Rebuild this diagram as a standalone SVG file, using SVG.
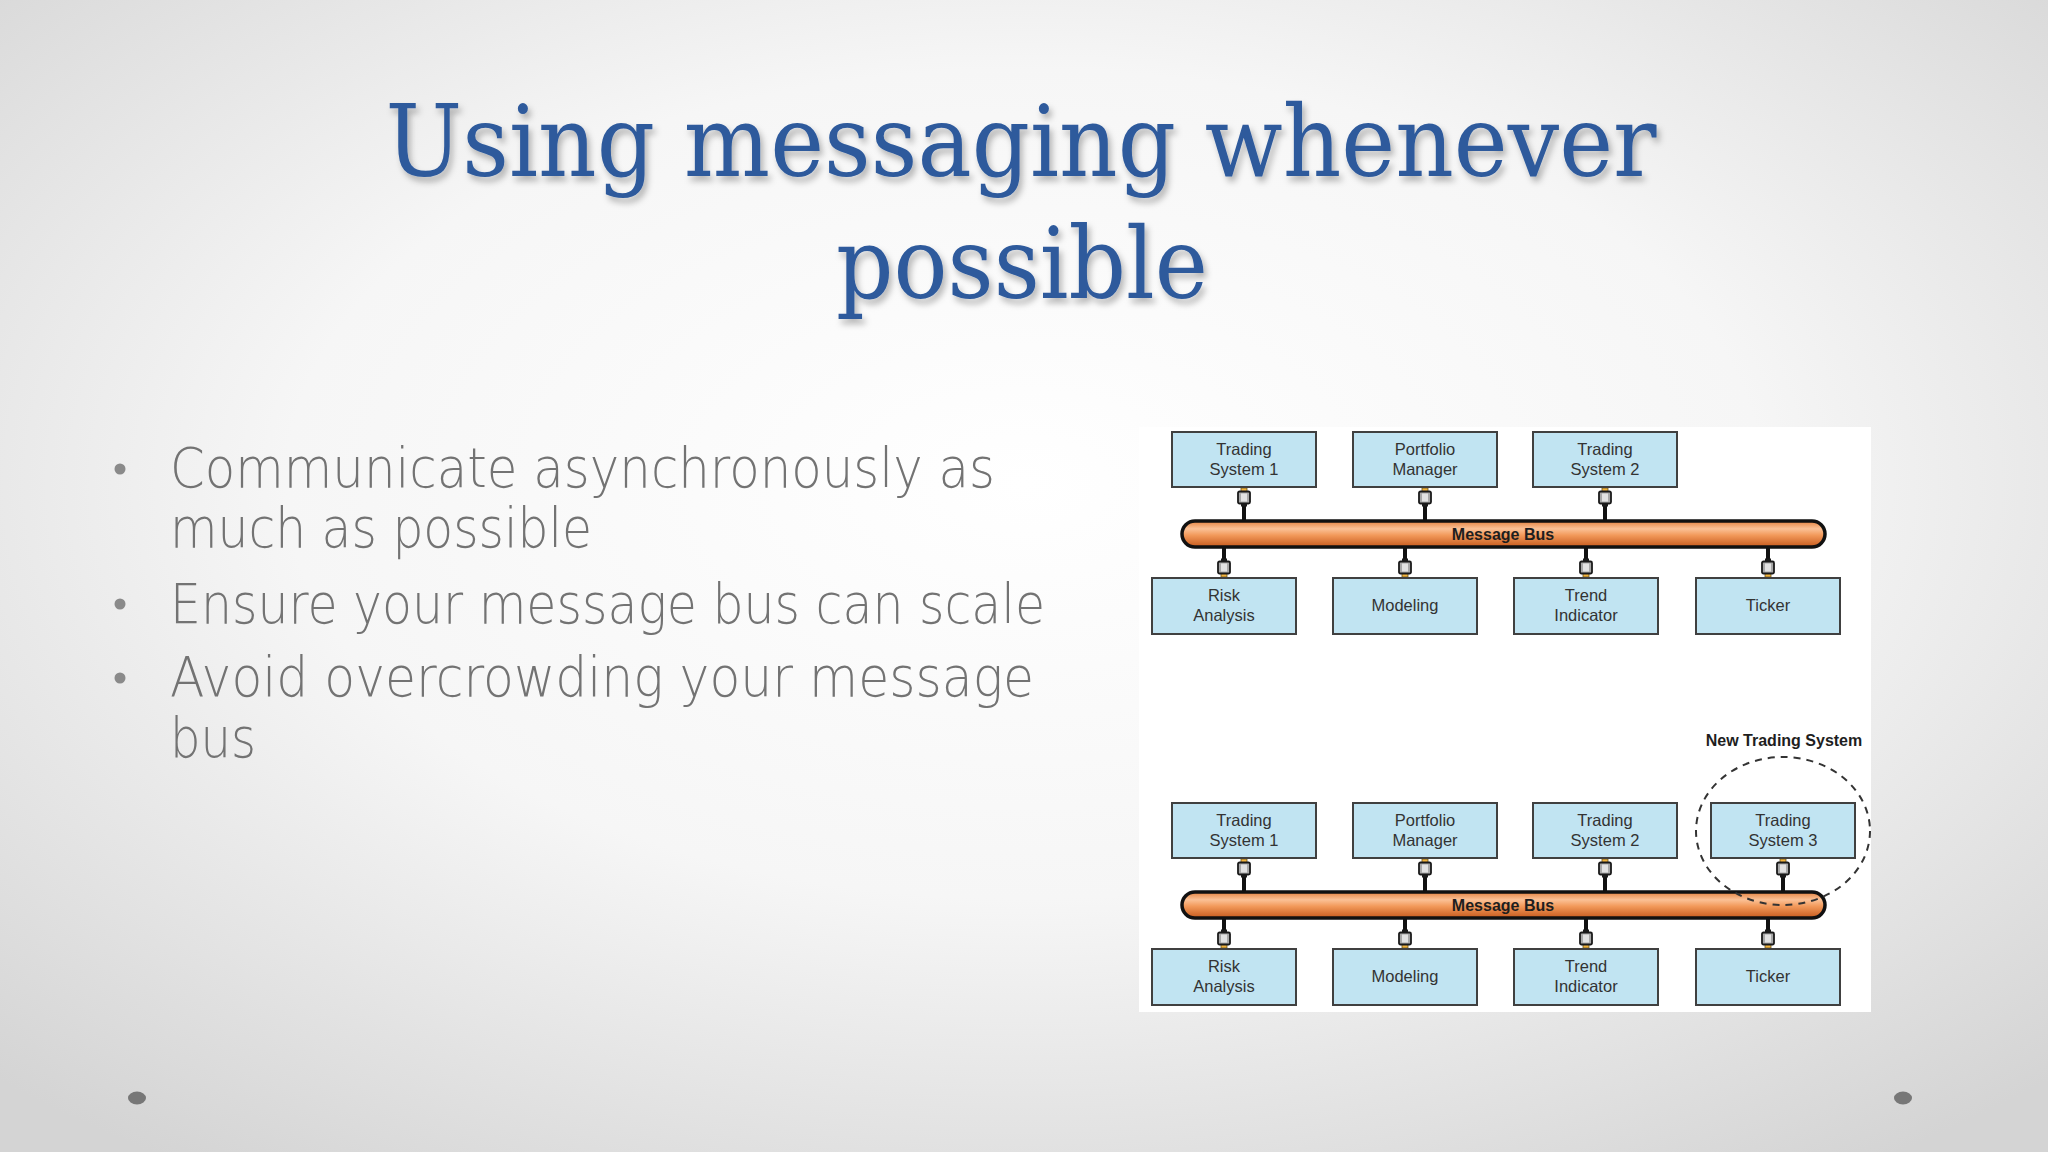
<svg xmlns="http://www.w3.org/2000/svg" xmlns:xlink="http://www.w3.org/1999/xlink" width="2048" height="1152" viewBox="0 0 2048 1152">
<defs>
<radialGradient id="bg" cx="50%" cy="42%" r="72%">
<stop offset="0" stop-color="#ffffff"/>
<stop offset="0.5" stop-color="#f6f6f6"/>
<stop offset="1" stop-color="#d4d4d4"/>
</radialGradient>
<linearGradient id="busg" x1="0" y1="0" x2="0" y2="1">
<stop offset="0" stop-color="#e4823f"/>
<stop offset="0.3" stop-color="#fbc196"/>
<stop offset="0.55" stop-color="#f2995a"/>
<stop offset="1" stop-color="#c65a1d"/>
</linearGradient>
<filter id="tshadow" x="-5%" y="-20%" width="110%" height="150%">
<feDropShadow dx="3" dy="5" stdDeviation="3" flood-color="#000" flood-opacity="0.28"/>
</filter>
<g id="plug">
<rect x="-3" y="0" width="6" height="4" fill="#f2b33d" stroke="#6a5520" stroke-width="0.8"/>
<rect x="-6" y="3.5" width="12" height="12" rx="1.5" fill="#a8a8a8" stroke="#1a1a1a" stroke-width="1.8"/>
<rect x="-3" y="5.5" width="6" height="8" fill="#e2e2e2"/>
<rect x="-3" y="15.5" width="6" height="3" fill="#1a1a1a"/>
</g>
<style>
.title{font-family:"DejaVu Serif","Liberation Serif",serif;font-size:100px;fill:#2e5a9c;text-anchor:middle;}
.bullet{font-family:"DejaVu Sans","Liberation Sans",sans-serif;font-weight:200;font-size:56px;fill:#737373;}
.dot{fill:#8a8a8a;}
.box{fill:#c1e4f2;stroke:#404040;stroke-width:2;}
.lbl{font-family:"Liberation Sans",Arial,sans-serif;font-size:16.5px;fill:#333;text-anchor:middle;}
.bus{fill:url(#busg);stroke:#111;stroke-width:3.5;}
.buslbl{font-family:"Liberation Sans",Arial,sans-serif;font-size:16px;font-weight:bold;fill:#1e1e1e;text-anchor:middle;}
.cable{stroke:#111;stroke-width:4;fill:none;}
.newlbl{font-family:"Liberation Sans",Arial,sans-serif;font-size:16px;font-weight:bold;fill:#1e1e1e;text-anchor:middle;}
.ring{fill:none;stroke:#333;stroke-width:2;stroke-dasharray:7 6;}
</style>
</defs>

<rect x="0" y="0" width="2048" height="1152" fill="url(#bg)"/>

<g id="title" filter="url(#tshadow)">
<text class="title" x="1021" y="176" textLength="1271" lengthAdjust="spacingAndGlyphs">Using messaging whenever</text>
<text class="title" x="1022" y="298" textLength="372" lengthAdjust="spacingAndGlyphs">possible</text>
</g>

<g id="bullets">
<circle class="dot" cx="120" cy="469" r="5.5"/>
<circle class="dot" cx="120" cy="604" r="5.5"/>
<circle class="dot" cx="120" cy="678" r="5.5"/>
<text class="bullet" x="170" y="487" textLength="825" lengthAdjust="spacingAndGlyphs">Communicate asynchronously as</text>
<text class="bullet" x="170" y="547" textLength="422" lengthAdjust="spacingAndGlyphs">much as possible</text>
<text class="bullet" x="170" y="623" textLength="875" lengthAdjust="spacingAndGlyphs">Ensure your message bus can scale</text>
<text class="bullet" x="170" y="696" textLength="864" lengthAdjust="spacingAndGlyphs">Avoid overcrowding your message</text>
<text class="bullet" x="170" y="757" textLength="86" lengthAdjust="spacingAndGlyphs">bus</text>
</g>

<ellipse cx="137" cy="1098" rx="9" ry="6.5" fill="#777"/>
<ellipse cx="1903" cy="1098" rx="9" ry="6.5" fill="#777"/>

<rect id="panel" x="1139" y="427" width="732" height="585" fill="#ffffff"/>

<!-- Diagram 1 -->
<g id="connectors1">
<line class="cable" x1="1244" y1="505" x2="1244" y2="522"/>
<line class="cable" x1="1425" y1="505" x2="1425" y2="522"/>
<line class="cable" x1="1605" y1="505" x2="1605" y2="522"/>
<line class="cable" x1="1224" y1="546" x2="1224" y2="561"/>
<line class="cable" x1="1405" y1="546" x2="1405" y2="561"/>
<line class="cable" x1="1586" y1="546" x2="1586" y2="561"/>
<line class="cable" x1="1768" y1="546" x2="1768" y2="561"/>
<use xlink:href="#plug" transform="translate(1244,488)"/>
<use xlink:href="#plug" transform="translate(1425,488)"/>
<use xlink:href="#plug" transform="translate(1605,488)"/>
<use xlink:href="#plug" transform="translate(1224,577) scale(1,-1)"/>
<use xlink:href="#plug" transform="translate(1405,577) scale(1,-1)"/>
<use xlink:href="#plug" transform="translate(1586,577) scale(1,-1)"/>
<use xlink:href="#plug" transform="translate(1768,577) scale(1,-1)"/>
</g>
<g id="bus1">
<rect class="bus" x="1182" y="521" width="643" height="26" rx="13"/>
<text class="buslbl" x="1503" y="539.5">Message Bus</text>
</g>
<g id="d1-trading1"><rect class="box" x="1172" y="432" width="144" height="55"/><text class="lbl" x="1244" y="455">Trading</text><text class="lbl" x="1244" y="475">System 1</text></g>
<g id="d1-portfolio"><rect class="box" x="1353" y="432" width="144" height="55"/><text class="lbl" x="1425" y="455">Portfolio</text><text class="lbl" x="1425" y="475">Manager</text></g>
<g id="d1-trading2"><rect class="box" x="1533" y="432" width="144" height="55"/><text class="lbl" x="1605" y="455">Trading</text><text class="lbl" x="1605" y="475">System 2</text></g>
<g id="d1-risk"><rect class="box" x="1152" y="578" width="144" height="56"/><text class="lbl" x="1224" y="601">Risk</text><text class="lbl" x="1224" y="621">Analysis</text></g>
<g id="d1-modeling"><rect class="box" x="1333" y="578" width="144" height="56"/><text class="lbl" x="1405" y="611">Modeling</text></g>
<g id="d1-trend"><rect class="box" x="1514" y="578" width="144" height="56"/><text class="lbl" x="1586" y="601">Trend</text><text class="lbl" x="1586" y="621">Indicator</text></g>
<g id="d1-ticker"><rect class="box" x="1696" y="578" width="144" height="56"/><text class="lbl" x="1768" y="611">Ticker</text></g>

<!-- Diagram 2 -->
<g id="connectors2">
<line class="cable" x1="1244" y1="876" x2="1244" y2="893"/>
<line class="cable" x1="1425" y1="876" x2="1425" y2="893"/>
<line class="cable" x1="1605" y1="876" x2="1605" y2="893"/>
<line class="cable" x1="1783" y1="876" x2="1783" y2="893"/>
<line class="cable" x1="1224" y1="917" x2="1224" y2="932"/>
<line class="cable" x1="1405" y1="917" x2="1405" y2="932"/>
<line class="cable" x1="1586" y1="917" x2="1586" y2="932"/>
<line class="cable" x1="1768" y1="917" x2="1768" y2="932"/>
<use xlink:href="#plug" transform="translate(1244,859)"/>
<use xlink:href="#plug" transform="translate(1425,859)"/>
<use xlink:href="#plug" transform="translate(1605,859)"/>
<use xlink:href="#plug" transform="translate(1783,859)"/>
<use xlink:href="#plug" transform="translate(1224,948) scale(1,-1)"/>
<use xlink:href="#plug" transform="translate(1405,948) scale(1,-1)"/>
<use xlink:href="#plug" transform="translate(1586,948) scale(1,-1)"/>
<use xlink:href="#plug" transform="translate(1768,948) scale(1,-1)"/>
</g>
<g id="bus2">
<rect class="bus" x="1182" y="892" width="643" height="26" rx="13"/>
<text class="buslbl" x="1503" y="910.5">Message Bus</text>
</g>
<g id="d2-trading1"><rect class="box" x="1172" y="803" width="144" height="55"/><text class="lbl" x="1244" y="826">Trading</text><text class="lbl" x="1244" y="846">System 1</text></g>
<g id="d2-portfolio"><rect class="box" x="1353" y="803" width="144" height="55"/><text class="lbl" x="1425" y="826">Portfolio</text><text class="lbl" x="1425" y="846">Manager</text></g>
<g id="d2-trading2"><rect class="box" x="1533" y="803" width="144" height="55"/><text class="lbl" x="1605" y="826">Trading</text><text class="lbl" x="1605" y="846">System 2</text></g>
<g id="d2-trading3"><rect class="box" x="1711" y="803" width="144" height="55"/><text class="lbl" x="1783" y="826">Trading</text><text class="lbl" x="1783" y="846">System 3</text></g>
<g id="d2-risk"><rect class="box" x="1152" y="949" width="144" height="56"/><text class="lbl" x="1224" y="972">Risk</text><text class="lbl" x="1224" y="992">Analysis</text></g>
<g id="d2-modeling"><rect class="box" x="1333" y="949" width="144" height="56"/><text class="lbl" x="1405" y="982">Modeling</text></g>
<g id="d2-trend"><rect class="box" x="1514" y="949" width="144" height="56"/><text class="lbl" x="1586" y="972">Trend</text><text class="lbl" x="1586" y="992">Indicator</text></g>
<g id="d2-ticker"><rect class="box" x="1696" y="949" width="144" height="56"/><text class="lbl" x="1768" y="982">Ticker</text></g>
<g id="new-system">
<ellipse class="ring" cx="1783" cy="831" rx="87" ry="74"/>
<text class="newlbl" x="1784" y="746">New Trading System</text>
</g>
</svg>
